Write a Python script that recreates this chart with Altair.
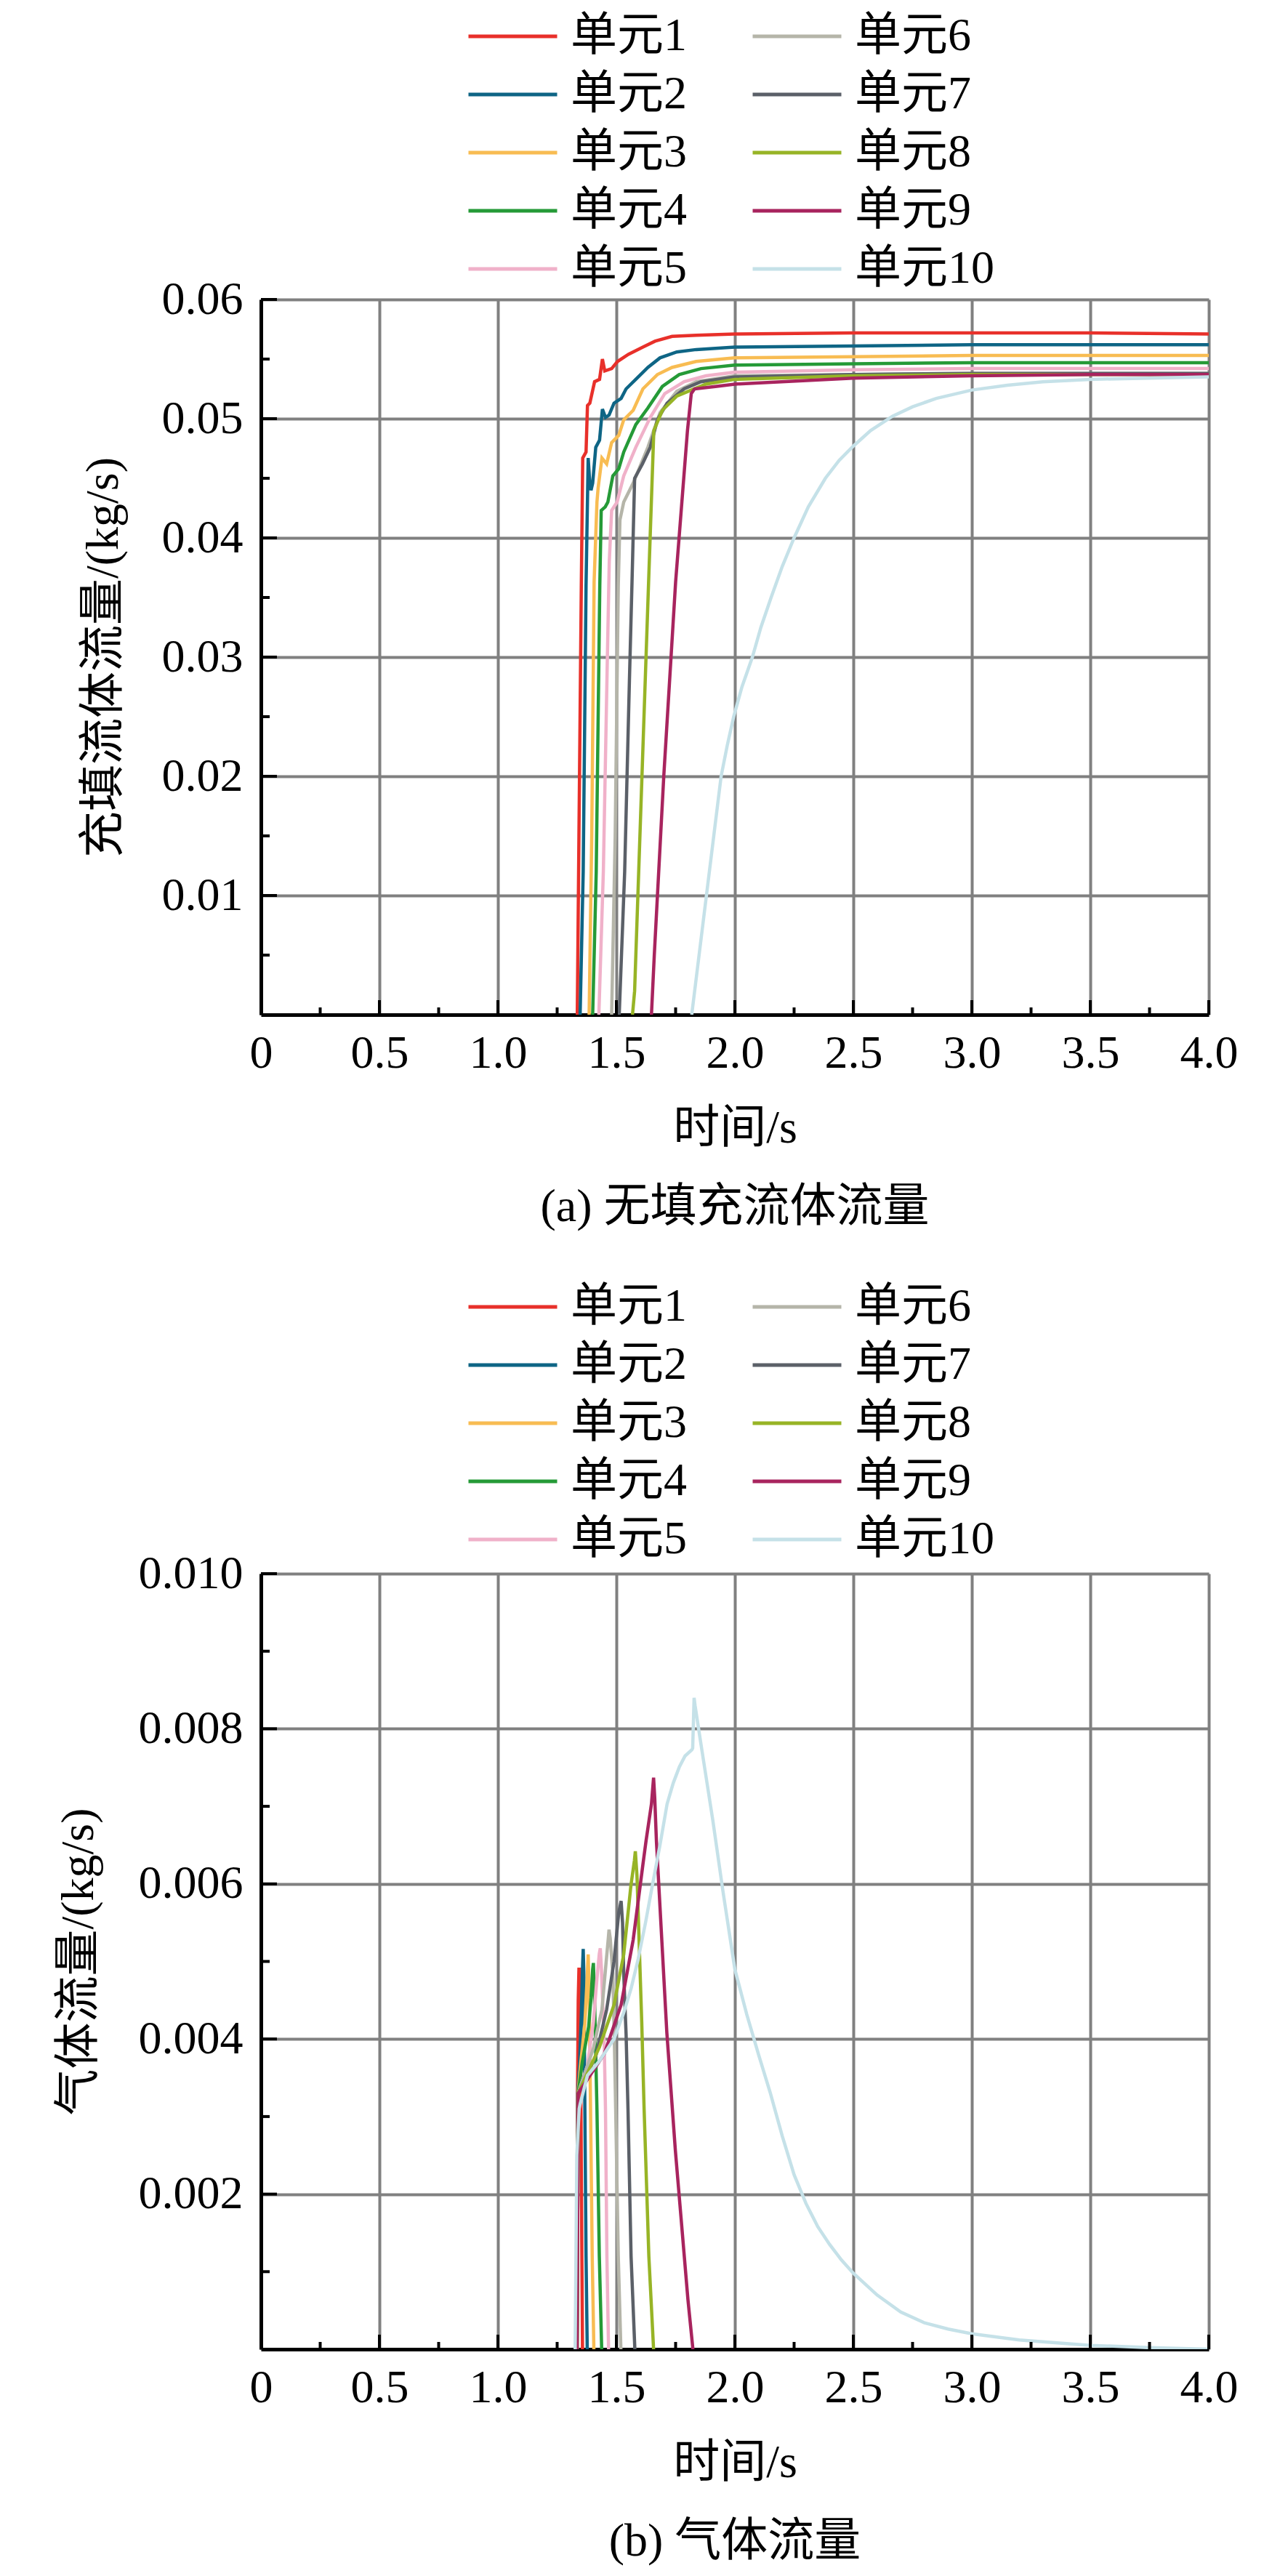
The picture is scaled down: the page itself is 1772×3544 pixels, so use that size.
import altair as alt
import pandas as pd

FONT = "Liberation Serif, Noto Sans CJK SC"

units = ["单元1", "单元2", "单元3", "单元4", "单元5",
         "单元6", "单元7", "单元8", "单元9", "单元10"]
colors = ["#E8302A", "#0E6585", "#F8BC52", "#259A37", "#F0B1C9",
          "#B5B5A9", "#5B6068", "#97B426", "#A8245E", "#C5E1E8"]

# ---------------- (a) fluid flow (kg/s) ----------------
fa1_t = [1.335, 1.342, 1.352, 1.358, 1.372, 1.378, 1.388, 1.408, 1.429, 1.441, 1.451, 1.480, 1.505, 1.551, 1.612, 1.663, 1.735, 1.837, 2.0, 2.5, 3.0, 3.5, 4.0]
fa1_v = [0.0, 0.015, 0.036, 0.0467, 0.0472, 0.0511, 0.0513, 0.0531, 0.0533, 0.0550, 0.0540, 0.0542, 0.0548, 0.0554, 0.0560, 0.0565, 0.0569, 0.0570, 0.0571, 0.0572, 0.0572, 0.0572, 0.0571]
fa2_t = [1.347, 1.360, 1.372, 1.381, 1.388, 1.393, 1.400, 1.413, 1.429, 1.441, 1.454, 1.469, 1.490, 1.520, 1.541, 1.582, 1.633, 1.684, 1.755, 1.837, 2.0, 2.5, 3.0, 3.5, 4.0]
fa2_v = [0.0, 0.012, 0.036, 0.0467, 0.0445, 0.0440, 0.0446, 0.0476, 0.0482, 0.0508, 0.0501, 0.0503, 0.0513, 0.0517, 0.0525, 0.0533, 0.0543, 0.0551, 0.0556, 0.0558, 0.0560, 0.0561, 0.0562, 0.0562, 0.0562]
fa3_t = [1.385, 1.396, 1.406, 1.418, 1.423, 1.439, 1.459, 1.480, 1.510, 1.531, 1.571, 1.612, 1.673, 1.735, 1.837, 2.0, 2.5, 3.0, 3.5, 4.0]
fa3_v = [0.0, 0.015, 0.0363, 0.0430, 0.0442, 0.0467, 0.0462, 0.0480, 0.0486, 0.0499, 0.0507, 0.0525, 0.0537, 0.0543, 0.0548, 0.0551, 0.0552, 0.0553, 0.0553, 0.0553]
fa4_t = [1.400, 1.415, 1.430, 1.436, 1.453, 1.464, 1.485, 1.510, 1.531, 1.582, 1.633, 1.694, 1.765, 1.857, 2.0, 2.5, 3.0, 3.5, 4.0]
fa4_v = [0.0, 0.012, 0.036, 0.0423, 0.0426, 0.0430, 0.0452, 0.0458, 0.0472, 0.0495, 0.0509, 0.0527, 0.0537, 0.0542, 0.0545, 0.0546, 0.0547, 0.0547, 0.0547]
fa5_t = [1.426, 1.445, 1.462, 1.470, 1.480, 1.503, 1.531, 1.582, 1.643, 1.704, 1.786, 1.878, 2.0, 2.5, 3.0, 3.5, 4.0]
fa5_v = [0.0, 0.012, 0.030, 0.0380, 0.0423, 0.0430, 0.0452, 0.0476, 0.0501, 0.0521, 0.0531, 0.0536, 0.0539, 0.0541, 0.0542, 0.0542, 0.0542]
fa6_t = [1.480, 1.495, 1.508, 1.515, 1.531, 1.571, 1.633, 1.684, 1.755, 1.837, 2.0, 2.5, 3.0, 3.5, 4.0]
fa6_v = [0.0, 0.015, 0.036, 0.0415, 0.0430, 0.0446, 0.0476, 0.0505, 0.0523, 0.0531, 0.0536, 0.0537, 0.0538, 0.0538, 0.0538]
fa7_t = [1.512, 1.535, 1.555, 1.566, 1.577, 1.610, 1.643, 1.673, 1.714, 1.786, 1.857, 2.0, 2.5, 3.0, 3.5, 4.0]
fa7_v = [0.0, 0.012, 0.028, 0.0363, 0.0450, 0.0462, 0.0476, 0.0499, 0.0513, 0.0525, 0.0531, 0.0535, 0.0537, 0.0538, 0.0538, 0.0538]
fa8_t = [1.568, 1.577, 1.636, 1.658, 1.694, 1.755, 1.816, 1.878, 2.0, 2.5, 3.0, 3.5, 4.0]
fa8_v = [0.0, 0.002, 0.0363, 0.0490, 0.0507, 0.0519, 0.0524, 0.0529, 0.0533, 0.0536, 0.0537, 0.0537, 0.0537]
fa9_t = [1.648, 1.660, 1.700, 1.750, 1.800, 1.816, 1.830, 1.918, 2.0, 2.5, 3.0, 3.5, 4.0]
fa9_v = [0.0, 0.005, 0.020, 0.0363, 0.0490, 0.0521, 0.0525, 0.0527, 0.0529, 0.0534, 0.0536, 0.0537, 0.0537]
fa10_t = [1.818, 1.849, 1.880, 1.911, 1.942, 1.968, 1.995, 2.030, 2.074, 2.110, 2.153, 2.200, 2.250, 2.310, 2.382, 2.440, 2.500, 2.573, 2.665, 2.750, 2.850, 3.000, 3.150, 3.300, 3.500, 3.750, 4.000]
fa10_v = [0.0, 0.005, 0.010, 0.015, 0.020, 0.0226, 0.025, 0.0275, 0.030, 0.0325, 0.035, 0.0376, 0.040, 0.0426, 0.045, 0.0465, 0.0477, 0.0490, 0.0502, 0.0510, 0.0517, 0.0524, 0.0528, 0.0531, 0.0533, 0.0534, 0.0535]

# ---------------- (b) gas flow (kg/s) ----------------
gb1_t = [1.332, 1.336, 1.339, 1.342, 1.345, 1.349, 1.353, 1.357]
gb1_v = [0.0, 0.0033, 0.0045, 0.0049, 0.0049, 0.0038, 0.0018, 0.0]
gb2_t = [1.333, 1.337, 1.345, 1.352, 1.357, 1.360, 1.363, 1.367, 1.372, 1.377]
gb2_v = [0.0, 0.0033, 0.0037, 0.0043, 0.0049, 0.00516, 0.0048, 0.0031, 0.0012, 0.0]
gb3_t = [1.334, 1.338, 1.350, 1.367, 1.377, 1.381, 1.385, 1.391, 1.398, 1.405]
gb3_v = [0.0, 0.0033, 0.0037, 0.0042, 0.0048, 0.00509, 0.0046, 0.0031, 0.0012, 0.0]
gb4_t = [1.334, 1.339, 1.356, 1.383, 1.393, 1.400, 1.403, 1.408, 1.418, 1.428, 1.438]
gb4_v = [0.0, 0.0033, 0.0037, 0.00416, 0.00453, 0.0049, 0.00498, 0.0045, 0.0031, 0.0012, 0.0]
gb5_t = [1.334, 1.339, 1.378, 1.403, 1.418, 1.428, 1.432, 1.437, 1.449, 1.454, 1.460, 1.467]
gb5_v = [0.0, 0.0033, 0.00366, 0.00422, 0.00478, 0.0051, 0.00517, 0.0049, 0.0039, 0.0031, 0.0012, 0.0]
gb6_t = [1.334, 1.339, 1.403, 1.439, 1.457, 1.466, 1.469, 1.474, 1.485, 1.492, 1.497, 1.508, 1.519]
gb6_v = [0.0, 0.0033, 0.00388, 0.00438, 0.0050, 0.0053, 0.00541, 0.0053, 0.00484, 0.0039, 0.0031, 0.0012, 0.0]
gb7_t = [1.334, 1.339, 1.413, 1.459, 1.490, 1.510, 1.520, 1.526, 1.531, 1.541, 1.549, 1.562, 1.578]
gb7_v = [0.0, 0.0033, 0.00378, 0.00438, 0.0050, 0.00563, 0.00578, 0.0055, 0.00484, 0.00406, 0.0031, 0.0012, 0.0]
gb8_t = [1.334, 1.339, 1.429, 1.490, 1.531, 1.561, 1.576, 1.580, 1.587, 1.597, 1.607, 1.617, 1.637, 1.657]
gb8_v = [0.0, 0.0033, 0.0039, 0.00444, 0.00509, 0.00597, 0.0063, 0.00642, 0.0061, 0.00516, 0.00422, 0.0031, 0.0012, 0.0]
gb9_t = [1.334, 1.339, 1.449, 1.520, 1.571, 1.612, 1.625, 1.648, 1.657, 1.662, 1.669, 1.713, 1.749, 1.802, 1.823]
gb9_v = [0.0, 0.0033, 0.00381, 0.00444, 0.00528, 0.00625, 0.00655, 0.00703, 0.00737, 0.0071, 0.00655, 0.00408, 0.00256, 0.00064, 0.0]
gb10_t = [1.326, 1.333, 1.343, 1.347, 1.378, 1.429, 1.490, 1.531, 1.562, 1.592, 1.623, 1.653, 1.684, 1.714, 1.740, 1.766, 1.790, 1.819, 1.822, 1.828, 1.832, 1.854, 1.880, 1.907, 1.950, 2.000, 2.050, 2.100, 2.150, 2.200, 2.250, 2.300, 2.350, 2.400, 2.450, 2.500, 2.600, 2.700, 2.800, 2.900, 3.000, 3.200, 3.500, 3.750, 4.000]
gb10_v = [0.0, 0.0025, 0.0031, 0.00316, 0.00353, 0.00372, 0.0040, 0.00434, 0.00465, 0.00503, 0.0055, 0.0060, 0.0065, 0.00703, 0.0073, 0.00751, 0.00765, 0.00773, 0.00775, 0.0084, 0.0083, 0.00786, 0.00735, 0.00682, 0.0059, 0.0049, 0.00432, 0.0038, 0.0033, 0.00275, 0.00225, 0.00188, 0.00158, 0.00135, 0.00115, 0.00098, 0.0007, 0.00048, 0.00034, 0.00026, 0.0002, 0.00012, 0.00005, 0.00002, 0.0]

# ---------------- axis ticks / labels ----------------
x_values = [0, 0.5, 1.0, 1.5, 2.0, 2.5, 3.0, 3.5, 4.0]
x_minor = [0.25, 0.75, 1.25, 1.75, 2.25, 2.75, 3.25, 3.75]
ya_values = [0.01, 0.02, 0.03, 0.04, 0.05, 0.06]
ya_minor = [0.005, 0.015, 0.025, 0.035, 0.045, 0.055]
yb_values = [0.002, 0.004, 0.006, 0.008, 0.010]
yb_minor = [0.001, 0.003, 0.005, 0.007, 0.009]

fluid_series = [(fa1_t, fa1_v), (fa2_t, fa2_v), (fa3_t, fa3_v), (fa4_t, fa4_v), (fa5_t, fa5_v),
                (fa6_t, fa6_v), (fa7_t, fa7_v), (fa8_t, fa8_v), (fa9_t, fa9_v), (fa10_t, fa10_v)]
gas_series = [(gb1_t, gb1_v), (gb2_t, gb2_v), (gb3_t, gb3_v), (gb4_t, gb4_v), (gb5_t, gb5_v),
              (gb6_t, gb6_v), (gb7_t, gb7_v), (gb8_t, gb8_v), (gb9_t, gb9_v), (gb10_t, gb10_v)]


def to_frame(series):
    rows = []
    for name, (ts, vs) in zip(units, series):
        for i, (t, v) in enumerate(zip(ts, vs)):
            rows.append({"unit": name, "t": t, "v": v, "i": i})
    return pd.DataFrame(rows)


W = 1304


def panel(series, H, ydom, yvals, yminor, yfmt, ytitle, caption, legend_y, ytitle_pad):
    xscale = alt.Scale(domain=[0, 4], nice=False, zero=False)
    yscale = alt.Scale(domain=ydom, nice=False, zero=False)
    xaxis = alt.Axis(values=x_values, title="时间/s",
                     labelExpr="datum.value == 0 ? '0' : format(datum.value, '.1f')",
                     labelPadding=21, titlePadding=39, labelFlush=False)
    yaxis = alt.Axis(values=yvals, format=yfmt, title=ytitle,
                     labelPadding=25, titlePadding=ytitle_pad, labelFlush=False)
    xenc = alt.X("t:Q", scale=xscale, axis=xaxis)
    yenc = alt.Y("v:Q", scale=yscale, axis=yaxis)
    lines = alt.Chart(to_frame(series)).mark_line(strokeWidth=4.5, clip=True).encode(
        x=xenc,
        y=yenc,
        color=alt.Color("unit:N",
                        scale=alt.Scale(domain=units, range=colors),
                        legend=alt.Legend(orient="none", legendX=283, legendY=legend_y,
                                          columns=2, title=None, symbolType="stroke",
                                          symbolSize=122 * 122, symbolStrokeWidth=5,
                                          labelFont=FONT, labelFontSize=64, labelColor="black",
                                          labelLimit=0, labelOffset=16, clipHeight=64,
                                          rowPadding=16, columnPadding=88, padding=0)),
        order=alt.Order("i:Q"),
    )
    xt_major = alt.Chart(pd.DataFrame({"t": x_values})).mark_rule(color="black", strokeWidth=4).encode(
        x=xenc, y=alt.value(H), y2=alt.value(H - 20))
    xt_minor = alt.Chart(pd.DataFrame({"t": x_minor})).mark_rule(color="black", strokeWidth=4).encode(
        x=xenc, y=alt.value(H), y2=alt.value(H - 10))
    yt_major = alt.Chart(pd.DataFrame({"v": yvals})).mark_rule(color="black", strokeWidth=4).encode(
        y=yenc, x=alt.value(0), x2=alt.value(22))
    yt_minor = alt.Chart(pd.DataFrame({"v": yminor})).mark_rule(color="black", strokeWidth=4).encode(
        y=yenc, x=alt.value(0), x2=alt.value(12))
    return alt.layer(lines, xt_major, xt_minor, yt_major, yt_minor).properties(
        width=W, height=H,
        title=alt.TitleParams(text=caption, orient="bottom", anchor="middle", offset=45,
                              font=FONT, fontSize=64, fontWeight="normal", color="black"),
    )


top = panel(fluid_series, 984, [0, 0.06], ya_values, ya_minor, ".2f",
            "充填流体流量/(kg/s)", "(a) 无填充流体流量", -394, 48)
bottom = panel(gas_series, 1067, [0, 0.010], yb_values, yb_minor, ".3f",
               "气体流量/(kg/s)", "(b) 气体流量", -399, 50)

chart = alt.vconcat(top, bottom, spacing=769, bounds="flush").resolve_scale(
    color="independent"
).properties(
    padding={"left": 68, "top": 10, "right": 10, "bottom": 10},
    background="white",
).configure_view(
    strokeWidth=0
).configure_axis(
    grid=True, gridColor="#808080", gridWidth=4, gridOpacity=1,
    domainColor="black", domainWidth=5, ticks=False, tickSize=0,
    labelFont=FONT, labelFontSize=64, labelColor="black",
    titleFont=FONT, titleFontSize=64, titleFontWeight="normal", titleColor="black",
)

chart.save("out.html", embed_options={"renderer": "svg", "actions": False})
